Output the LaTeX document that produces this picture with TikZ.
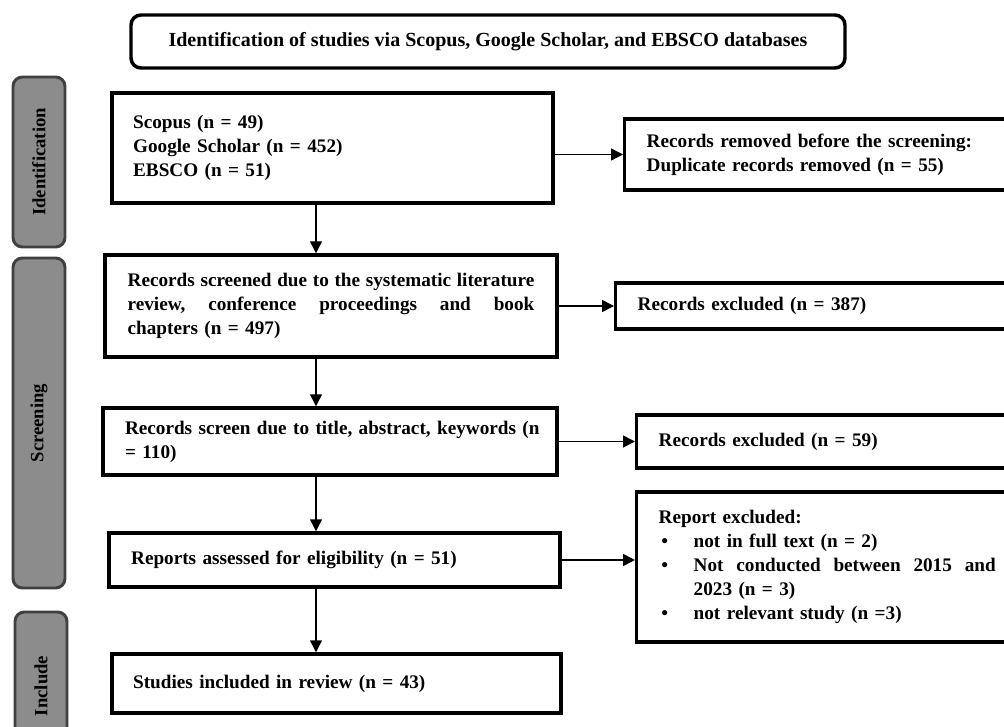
\documentclass[tikz,border=0pt]{standalone}
\usepackage{fontspec}
\setmainfont{Liberation Serif}
\usetikzlibrary{arrows.meta}

\begin{document}
\begin{tikzpicture}[x=0.75pt, y=-0.75pt,
    stage/.style={draw, line width=2.6pt, align=left, inner xsep=16pt, inner ysep=0pt, text width=305pt, minimum width=338pt, font=\bfseries\fontsize{14.4}{18}\selectfont},
    outbox/.style={stage, anchor=west, inner xsep=16.5pt, text width=282pt, minimum width=315pt},
    phase/.style={draw=black!75, fill=black!45, line width=2.2pt, rounded corners=7pt, minimum height=39pt, rotate=90, font=\bfseries\fontsize{14}{16}\selectfont},
    arr/.style={line width=1.1pt, -{Triangle[length=9pt, width=9pt]}}]
\useasboundingbox (0,0) rectangle (1004,727);
\clip (0,0) rectangle (1004,727);

% Header
\node[draw, line width=2.6pt, rounded corners=7.5pt, minimum width=535.5pt, minimum height=39.75pt, font=\bfseries\fontsize{15}{18}\selectfont] (head) at (488,41.5) {Identification of studies via Scopus, Google Scholar, and EBSCO databases};

% Phase labels on the left
\node[phase, minimum width=127.5pt] (ident) at (39,162) {Identification};
\node[phase, minimum width=247.5pt] (screen) at (39,423) {Screening};
\node[phase, minimum width=111pt] (incl) at (41,686) {Include};

% Main column
\node[stage, minimum width=330.75pt, text width=299pt, minimum height=82.5pt] (src) at (332.5,148) {Scopus (n = 49)\\ Google Scholar (n = 452)\\ EBSCO (n = 51)};
\node[stage, minimum width=339pt, minimum height=76.5pt] (scr) at (331,306) {\leavevmode\hbox to 305pt{Records\hfill screened\hfill due\hfill to\hfill the\hfill systematic\hfill literature}\\ \leavevmode\hbox to 305pt{review,\hfill conference\hfill proceedings\hfill and\hfill book}\\ chapters (n = 497)};
\node[stage, minimum width=340.5pt, text width=307.5pt, minimum height=50.25pt] (tak) at (330,441.5) {\mbox{Records screen due to title, abstract, keywords (n}\\ = 110)};
\node[stage, minimum height=40.5pt] (elig) at (334.5,560) {Reports assessed for eligibility (n = 51)};
\node[stage, minimum width=335.25pt, minimum height=44.25pt] (study) at (336.5,683.5) {Studies included in review (n = 43)};

% Side boxes
\node[outbox, minimum height=53.25pt] (dup) at (623,154.5) {Records removed before the screening:\\ Duplicate records removed (n = 55)};
\node[outbox, minimum height=34.5pt] (exc1) at (614,306) {Records excluded (n = 387)};
\node[outbox, minimum height=39.75pt] (exc2) at (635,441.5) {Records excluded (n = 59)};
\node[outbox, minimum height=112.5pt] (rep) at (635,567) {Report excluded:\\
  \hspace*{2pt}\makebox[24.25pt][l]{\textbullet}\hbox{not in full text (n = 2)}\\
  \hspace*{2pt}\makebox[24.25pt][l]{\textbullet}\hbox to 226.5pt{Not\hfill conducted\hfill between\hfill 2015\hfill and}\\
  \hspace*{26.25pt}2023 (n = 3)\\
  \hspace*{2pt}\makebox[24.25pt][l]{\textbullet}not relevant study (n =3)};

% Arrows down the column
\coordinate (spine) at (316,0);
\draw[arr] (spine |- src.south) -- (spine |- scr.north);
\draw[arr] (spine |- scr.south) -- (spine |- tak.north);
\draw[arr] (spine |- tak.south) -- (spine |- elig.north);
\draw[arr] (spine |- elig.south) -- (spine |- study.north);

% Arrows to the side
\draw[arr] (src.east |- dup.west) -- (dup.west);
\draw[arr] (scr.east) -- (scr.east -| exc1.west);
\draw[arr] (tak.east) -- (tak.east -| exc2.west);
\draw[arr] (elig.east) -- (elig.east -| rep.west);
\end{tikzpicture}
\end{document}
